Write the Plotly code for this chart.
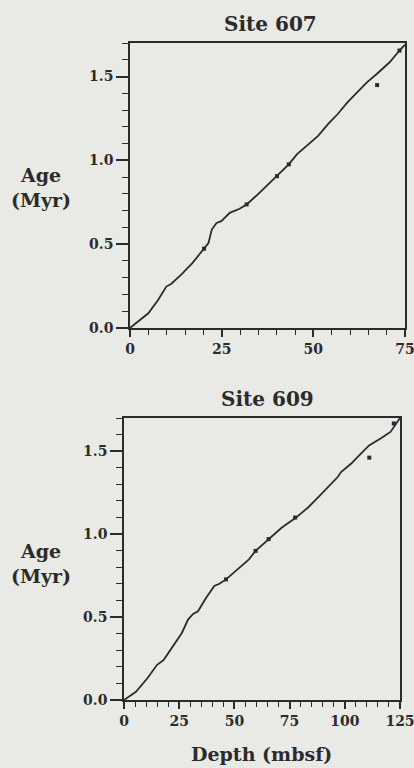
import plotly.graph_objects as go

# Age-depth model, Site 607
depth_607 = [0, 2.8, 5.0, 7.7, 9.9, 11.2, 13.9, 17.0, 20.2, 21.4, 22.3, 23.6, 24.9,
             27.2, 29.9, 31.8, 34.8, 40.1, 43.3, 45.5, 48.6, 51.3, 54.0, 56.6, 59.3,
             61.9, 64.6, 67.3, 70.8, 73.5, 75.0]
age_607 = [0, 0.048, 0.088, 0.168, 0.247, 0.263, 0.317, 0.387, 0.473, 0.507, 0.587,
           0.627, 0.637, 0.687, 0.711, 0.737, 0.796, 0.906, 0.976, 1.036, 1.096,
           1.146, 1.216, 1.275, 1.346, 1.405, 1.465, 1.515, 1.585, 1.655, 1.69]
tie_depth_607 = [20.2, 31.8, 40.1, 43.3, 67.4, 73.5]
tie_age_607 = [0.473, 0.737, 0.906, 0.976, 1.449, 1.655]

# Age-depth model, Site 609
depth_609 = [0, 5.4, 10.6, 15.0, 18.0, 22.4, 26.2, 29.0, 31.3, 33.5, 37.2, 40.9,
             43.2, 46.2, 51.4, 53.6, 56.6, 59.6, 65.5, 71.5, 77.5, 83.5, 87.9, 92.4,
             96.8, 98.3, 102.8, 107.3, 111.0, 116.2, 120.7, 125.0]
age_609 = [0, 0.05, 0.131, 0.212, 0.242, 0.333, 0.404, 0.485, 0.519, 0.535, 0.616,
           0.687, 0.701, 0.727, 0.788, 0.818, 0.848, 0.899, 0.970, 1.04, 1.095,
           1.162, 1.222, 1.283, 1.344, 1.374, 1.424, 1.485, 1.535, 1.576, 1.616, 1.70]
tie_depth_609 = [46.2, 59.6, 65.5, 77.5, 111.1, 122.2]
tie_age_609 = [0.727, 0.899, 0.970, 1.10, 1.461, 1.667]

x_ticks_607 = [0, 25, 50, 75]
x_ticks_609 = [0, 25, 50, 75, 100, 125]
y_ticks = [0.0, 0.5, 1.0, 1.5]

INK = "#2b2b2b"
BG = "#e9e9e6"
FONT = "DejaVu Serif"
W, H = 414, 768

fig = go.Figure()

fig.add_trace(go.Scatter(x=depth_607, y=age_607, mode="lines",
                         line=dict(color=INK, width=1.8), xaxis="x", yaxis="y",
                         showlegend=False))
fig.add_trace(go.Scatter(x=tie_depth_607, y=tie_age_607, mode="markers",
                         marker=dict(symbol="square", size=4, color=INK),
                         xaxis="x", yaxis="y", showlegend=False))
fig.add_trace(go.Scatter(x=depth_609, y=age_609, mode="lines",
                         line=dict(color=INK, width=1.8), xaxis="x2", yaxis="y2",
                         showlegend=False))
fig.add_trace(go.Scatter(x=tie_depth_609, y=tie_age_609, mode="markers",
                         marker=dict(symbol="square", size=4, color=INK),
                         xaxis="x2", yaxis="y2", showlegend=False))

tickfont = dict(family=FONT, size=14, color=INK, weight="bold")


def xaxis(domain, anchor, rng, ticks):
    return dict(domain=domain, anchor=anchor, range=rng, tickvals=ticks,
                ticktext=[str(t) for t in ticks], showline=True, mirror=True,
                linecolor=INK, linewidth=1.6, ticks="outside", ticklen=7,
                tickwidth=1.6, tickcolor=INK, tickfont=tickfont, showgrid=False,
                zeroline=False, fixedrange=True, automargin=False,
                ticklabeloverflow="allow",
                minor=dict(dtick=5, tick0=0, ticks="outside", ticklen=5,
                           tickwidth=1.4, tickcolor=INK, showgrid=False))


def yaxis(domain, anchor):
    return dict(domain=domain, anchor=anchor, range=[0, 1.7], tickvals=y_ticks,
                ticktext=[f"{t:.1f}" for t in y_ticks], showline=True, mirror=True,
                linecolor=INK, linewidth=1.6, ticks="outside", ticklen=12,
                tickwidth=1.6, tickcolor=INK, tickfont=tickfont, showgrid=False,
                zeroline=False, fixedrange=True, automargin=False,
                ticklabeloverflow="allow",
                minor=dict(dtick=0.1, tick0=0, ticks="outside", ticklen=6,
                           tickwidth=1.4, tickcolor=INK, showgrid=False))


fig.update_layout(
    width=W, height=H,
    margin=dict(l=0, r=0, t=0, b=0),
    paper_bgcolor=BG, plot_bgcolor=BG,
    xaxis=xaxis([130 / W, 405 / W], "y", [0, 75], x_ticks_607),
    yaxis=yaxis([1 - 328 / H, 1 - 43 / H], "x"),
    xaxis2=xaxis([124 / W, 400 / W], "y2", [0, 125], x_ticks_609),
    yaxis2=yaxis([1 - 700 / H, 1 - 418 / H], "x2"),
)

labfont = dict(family=FONT, size=19, color=INK, weight="bold")
titlefont = dict(family=FONT, size=20, color=INK, weight="bold")


def note(text, x, y, font):
    fig.add_annotation(text=text, x=x / W, y=1 - y / H, xref="paper", yref="paper",
                       showarrow=False, xanchor="center", yanchor="middle", font=font)


note("Site 607", 270, 24, titlefont)
note("Site 609", 267, 399, titlefont)
note("Age<br>(Myr)", 41, 187, labfont)
note("Age<br>(Myr)", 41, 563, labfont)
note("Depth (mbsf)", 261, 754, labfont)

fig.write_html("out.html")
